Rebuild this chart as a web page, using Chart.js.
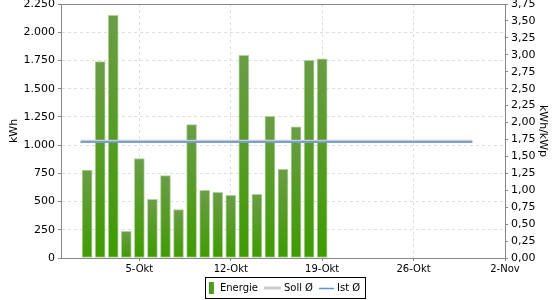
<!DOCTYPE html>
<html>
<head>
<meta charset="utf-8">
<script src="https://cdn.jsdelivr.net/npm/chart.js@4/dist/chart.umd.min.js"></script>
<style>
  body { margin: 0; background: #fff; }
  #wrap { width: 560px; height: 300px; }
</style>
</head>
<body>
<div id="wrap"><canvas id="chart" width="560" height="300"></canvas></div>
<script>
// Tage im Oktober (x in Tagen, 1 = 1-Okt)
var days = [1, 2, 3, 4, 5, 6, 7, 8, 9, 10, 11, 12, 13, 14, 15, 16, 17, 18, 19];
// Tagesertrag in kWh
var energie = [778, 1741, 2150, 237, 881, 519, 730, 430, 1181, 600, 582, 555, 1795, 564, 1254, 786, 1163, 1750, 1765];
// Durchschnittswerte (kWh) und ihr Zeitraum
var sollAvg = 1035;
var istAvg = 1027;
var avgFrom = 0.5, avgTo = 30.5;
// Achsen
var tickDays = [5, 12, 19, 26, 33];
var tickLabels = ['5-Okt', '12-Okt', '19-Okt', '26-Okt', '2-Nov'];
var xMin = -1, xMax = 33;
var kwhMax = 2250, kwhStep = 250;
var kwp = 600; // kWh pro kWh/kWp

var FONT = 'DejaVu Sans';
var AXIS = '#888888';
var GRID = '#dedede';

function fmtKwh(v) { // 2250 -> 2.250
  var s = String(Math.round(v));
  return s.replace(/\B(?=(\d{3})+(?!\d))/g, '.');
}

// Rahmen oben + Legende mit Kasten
var extras = {
  id: 'extras',
  afterDraw: function (chart) {
    var c = chart.ctx, a = chart.chartArea;
    c.save();
    c.strokeStyle = AXIS;
    c.lineWidth = 1;
    c.beginPath();
    c.moveTo(a.left, a.top + 0.5);
    c.lineTo(a.right, a.top + 0.5);
    c.stroke();

    // Legende
    c.font = '10px "' + FONT + '"';
    c.textBaseline = 'middle';
    var ds = chart.data.datasets;
    var w0 = c.measureText(ds[0].label).width;
    var w1 = c.measureText(ds[1].label).width;
    var w2 = c.measureText(ds[2].label).width;
    var total = 4 + 5 + 6 + w0 + 6 + 17 + 3 + w1 + 6 + 15 + 3 + w2 + 5;
    var x = 285 - total / 2, y = 288;
    c.strokeStyle = '#000';
    c.strokeRect(Math.round(x) + 0.5, 277.5, Math.round(total), 21);
    x += 4;
    c.fillStyle = '#4d9a1c';
    c.fillRect(x, y - 6, 5, 12);
    x += 5 + 6;
    c.fillStyle = '#000';
    c.fillText(ds[0].label, x, y);
    x += w0 + 6;
    c.strokeStyle = ds[1].borderColor;
    c.lineWidth = ds[1].borderWidth;
    c.beginPath(); c.moveTo(x, y); c.lineTo(x + 17, y); c.stroke();
    x += 17 + 3;
    c.fillText(ds[1].label, x, y);
    x += w1 + 6;
    c.strokeStyle = ds[2].borderColor;
    c.lineWidth = ds[2].borderWidth;
    c.beginPath(); c.moveTo(x, y + 0.5); c.lineTo(x + 15, y + 0.5); c.stroke();
    x += 15 + 3;
    c.fillText(ds[2].label, x, y);
    c.restore();
  }
};

function barGradient(context) {
  var chart = context.chart;
  var y = chart.scales.y;
  if (!y || !context.raw) return '#52a020';
  var top = y.getPixelForValue(context.raw.y);
  var bottom = y.getPixelForValue(0);
  if (!isFinite(top) || !isFinite(bottom)) return '#52a020';
  var g = chart.ctx.createLinearGradient(0, top, 0, bottom);
  g.addColorStop(0, '#6b9c47');
  g.addColorStop(1, '#3f9b02');
  return g;
}

var ctx = document.getElementById('chart').getContext('2d');
var chart = new Chart(ctx, {
  type: 'bar',
  data: {
    datasets: [{
      label: 'Energie',
      data: days.map(function (d, i) { return { x: d, y: energie[i] }; }),
      backgroundColor: barGradient,
      borderColor: 'rgba(165,205,140,0.9)',
      borderWidth: 1,
      borderSkipped: false,
      barThickness: 10,
      yAxisID: 'y',
      order: 3
    }, {
      type: 'line',
      label: 'Soll Ø',
      data: [{ x: avgFrom, y: sollAvg }, { x: avgTo, y: sollAvg }],
      borderColor: '#cccccc',
      borderWidth: 3,
      pointRadius: 0,
      yAxisID: 'y',
      order: 2
    }, {
      type: 'line',
      label: 'Ist Ø',
      data: [{ x: avgFrom, y: istAvg }, { x: avgTo, y: istAvg }],
      borderColor: '#5b92d4',
      borderWidth: 1.5,
      pointRadius: 0,
      yAxisID: 'y',
      order: 1
    }]
  },
  options: {
    responsive: false,
    animation: false,
    layout: { padding: { top: 4, bottom: 22, left: 0, right: 0 } },
    plugins: { legend: { display: false }, tooltip: { enabled: false } },
    scales: {
      x: {
        type: 'linear',
        min: xMin, max: xMax,
        offset: false,
        afterBuildTicks: function (s) { s.ticks = tickDays.map(function (v) { return { value: v }; }); },
        afterFit: function (s) { s.height = 20; s.paddingLeft = 0; s.paddingRight = 0; },
        ticks: {
          autoSkip: false, maxRotation: 0, padding: 2, color: '#000',
          font: { family: FONT, size: 10 },
          callback: function (v, i) { return tickLabels[i]; }
        },
        grid: { color: GRID, tickColor: AXIS, tickLength: 3, offset: false },
        border: { color: AXIS, dash: [3, 3] }
      },
      y: {
        position: 'left',
        min: 0, max: kwhMax,
        afterFit: function (s) { s.width = 61; s.paddingTop = 0; s.paddingBottom = 0; },
        ticks: {
          stepSize: kwhStep, padding: 3, color: '#000',
          font: { family: FONT, size: 11 },
          callback: function (v) { return fmtKwh(v); }
        },
        grid: { color: GRID, tickColor: AXIS, tickLength: 3 },
        border: { color: AXIS, dash: [3, 3] },
        title: { display: true, text: 'kWh', color: '#000', font: { family: FONT, size: 11 }, padding: { top: 8 } }
      },
      y1: {
        position: 'right',
        min: 0, max: kwhMax / kwp,
        afterFit: function (s) { s.width = 55; s.paddingTop = 0; s.paddingBottom = 0; },
        ticks: {
          stepSize: 0.25, padding: 3, color: '#000',
          font: { family: FONT, size: 11 },
          callback: function (v) { return v.toFixed(2).replace('.', ','); }
        },
        grid: { drawOnChartArea: false, color: AXIS, tickColor: AXIS, tickLength: 3 },
        border: { color: AXIS },
        title: { display: true, text: 'kWh/kWp', color: '#000', font: { family: FONT, size: 11 }, padding: { top: 11 } }
      }
    }
  },
  plugins: [extras]
});
</script>
</body>
</html>
